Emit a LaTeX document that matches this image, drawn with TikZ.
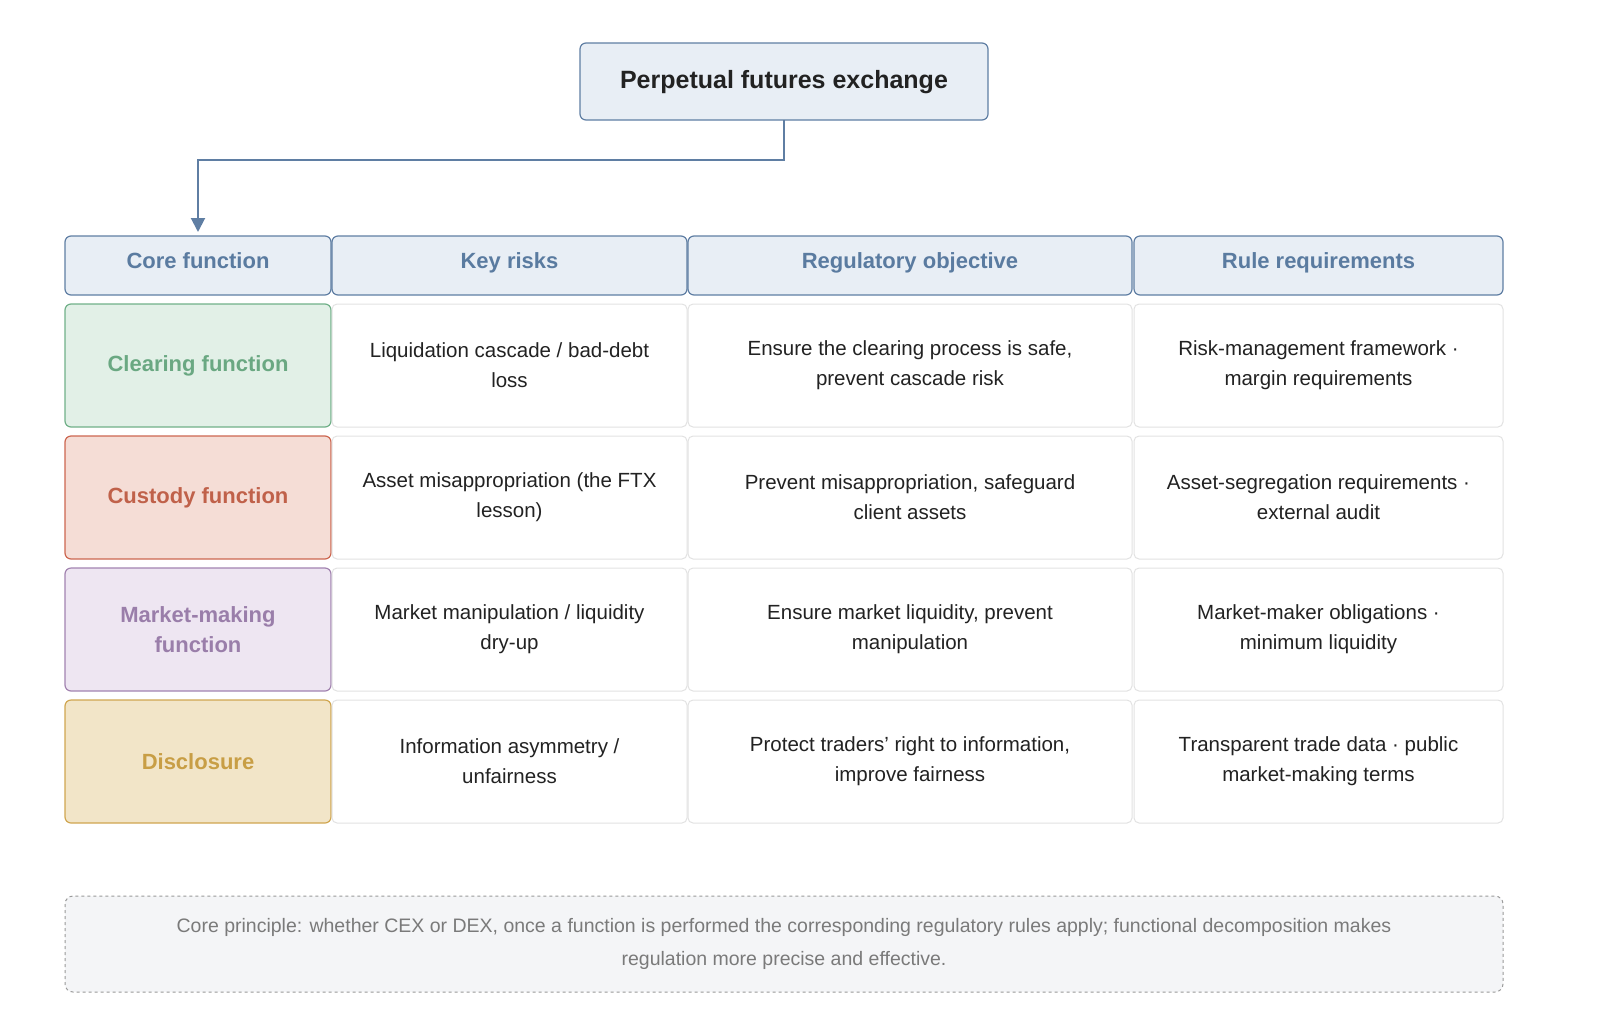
\documentclass[tikz,border=0pt]{standalone}
\usepackage{fontspec}
\setmainfont{Liberation Sans}
\usetikzlibrary{arrows.meta}
\definecolor{hb}{HTML}{E8EEF5}\definecolor{hs}{HTML}{5F7EA3}\definecolor{ht}{HTML}{5A7BA0}
\definecolor{gf}{HTML}{E2F0E7}\definecolor{gs}{HTML}{70B088}\definecolor{gt}{HTML}{6AA882}
\definecolor{rf}{HTML}{F5DDD6}\definecolor{rs}{HTML}{CC6650}\definecolor{rt}{HTML}{C0614A}
\definecolor{pf}{HTML}{EEE6F2}\definecolor{ps}{HTML}{A283B0}\definecolor{pt}{HTML}{9A7EAA}
\definecolor{yf}{HTML}{F2E5C8}\definecolor{ys}{HTML}{D0A650}\definecolor{yt}{HTML}{C89E45}
\definecolor{cs}{HTML}{E2E2E2}\definecolor{ff}{HTML}{F4F5F7}\definecolor{fs}{HTML}{999999}\definecolor{ft}{HTML}{7A7A7A}
\definecolor{tx}{HTML}{222222}
\begin{document}
\begin{tikzpicture}[x=1pt,y=-1pt,
 box/.style={rounded corners=6pt,line width=1.2pt},
 hdr/.style={box,fill=hb,draw=hs},
 htext/.style={text=ht,font=\fontsize{22}{26}\selectfont\bfseries,text height=0.75em,text depth=0.22em},
 cell/.style={rounded corners=5pt,draw=cs,fill=white,line width=1pt},
 ctext/.style={align=center,text=tx,font=\fontsize{20.5}{30}\selectfont}]
\useasboundingbox (0,0) rectangle (1600,1018);
\draw[box,fill=hb,draw=hs] (580,43) rectangle (988,120);
\node[font=\fontsize{25}{30}\selectfont\bfseries,text=tx] (top) at (784,82) {Perpetual futures exchange};
\coordinate (ta) at (784,120);
\coordinate (tb) at (198,232);
\draw[hdr] (65,236) rectangle (331,295);
\draw[hdr] (332,236) rectangle (687,295);
\draw[hdr] (688,236) rectangle (1132,295);
\draw[hdr] (1134,236) rectangle (1503,295);
\node[htext] (h1) at (198,266) {Core function};
\node[htext] (h2) at (509.5,266) {Key risks};
\node[htext] (h3) at (910,266) {Regulatory objective};
\node[htext] (h4) at (1318.5,266) {Rule requirements};
\draw[hs,line width=2pt,-{Triangle[length=14pt,width=14pt]}] (ta) -- (784,160) -- (198,160) -- (tb);
\foreach \ya/\yb/\f/\s/\t/\lab/\a/\b/\c [count=\i] in {
 304/427/gf/gs/gt/{Clearing function}/{Liquidation cascade / bad-debt\\loss}/{Ensure the clearing process is safe,\\prevent cascade risk}/{Risk-management framework ·\\margin requirements},
 436/559/rf/rs/rt/{Custody function}/{Asset misappropriation (the FTX\\lesson)}/{Prevent misappropriation, safeguard\\client assets}/{Asset-segregation requirements ·\\external audit},
 568/691/pf/ps/pt/{Market-making\\function}/{Market manipulation / liquidity\\dry-up}/{Ensure market liquidity, prevent\\manipulation}/{Market-maker obligations ·\\minimum liquidity},
 700/823/yf/ys/yt/{Disclosure}/{Information asymmetry /\\unfairness}/{Protect traders' right to information,\\improve fairness}/{Transparent trade data · public\\market-making terms}}{
 \pgfmathsetmacro\ym{(\ya+\yb)/2}
 \draw[box,fill=\f,draw=\s] (65,\ya) rectangle (331,\yb);
 \draw[cell] (332,\ya) rectangle (687,\yb);
 \draw[cell] (688,\ya) rectangle (1132,\yb);
 \draw[cell] (1134,\ya) rectangle (1503,\yb);
 \node[align=center,text=\t,font=\fontsize{22}{30}\selectfont\bfseries] (r\i a) at (198,\ym) {\lab};
 \node[ctext] (r\i b) at (509.5,\ym) {\a};
 \node[ctext] (r\i c) at (910,\ym) {\b};
 \node[ctext] (r\i d) at (1318.5,\ym) {\c};
}
\draw[rounded corners=8pt,fill=ff,draw=fs,dashed,line width=1pt] (65,896) rectangle (1503,992);
\node[align=center,text=ft,font=\fontsize{19.5}{33}\selectfont] (foot) at (784,944) {Core principle: whether CEX or DEX, once a function is performed the corresponding regulatory rules apply; functional decomposition makes\\regulation more precise and effective.};
\end{tikzpicture}
\end{document}
